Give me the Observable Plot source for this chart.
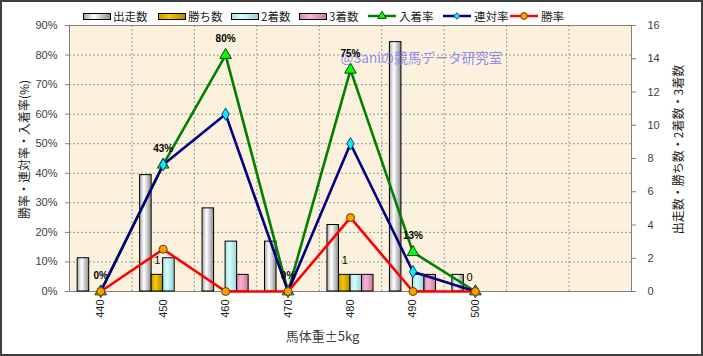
<!DOCTYPE html>
<html><head><meta charset="utf-8">
<script src="https://cdn.jsdelivr.net/npm/d3@7"></script>
<script src="https://cdn.jsdelivr.net/npm/@observablehq/plot@0.6"></script>
<style>
body{margin:0;background:#fff;}
#wrap{position:relative;width:703px;height:356px;overflow:hidden;font-family:"Noto Sans CJK JP",sans-serif;}
#border{position:absolute;left:0;top:0;width:703px;height:356px;box-sizing:border-box;border:2px solid #404040;pointer-events:none;}
#legend{position:absolute;top:9px;left:0;height:14px;width:703px;font-size:11.5px;color:#222;}
.li{position:absolute;top:0;height:14px;display:flex;align-items:center;white-space:nowrap;line-height:14px;}
.sw{width:26px;height:5px;border:1px solid #000;margin-right:2px;}
</style></head>
<body>
<div id="wrap">
<svg width="0" height="0" style="position:absolute">
  <defs>
    <linearGradient id="g0" x1="0" x2="1" y1="0" y2="0"><stop offset="0" stop-color="#a8a8a8"/><stop offset="0.38" stop-color="#ffffff"/><stop offset="1" stop-color="#8c8c8c"/></linearGradient>
    <linearGradient id="g1" x1="0" x2="1" y1="0" y2="0"><stop offset="0" stop-color="#c89a00"/><stop offset="0.38" stop-color="#f8c800"/><stop offset="1" stop-color="#b48800"/></linearGradient>
    <linearGradient id="g2" x1="0" x2="1" y1="0" y2="0"><stop offset="0" stop-color="#a8e4e4"/><stop offset="0.38" stop-color="#d4fcfc"/><stop offset="1" stop-color="#98d4d4"/></linearGradient>
    <linearGradient id="g3" x1="0" x2="1" y1="0" y2="0"><stop offset="0" stop-color="#d888b0"/><stop offset="0.38" stop-color="#f8b4d4"/><stop offset="1" stop-color="#c87aa0"/></linearGradient>
  </defs>
</svg>
<div id="chart"></div>
<div id="legend"></div>
<div id="border"></div>
</div>
<script>
// ---- data ----
const weights = [440, 450, 460, 470, 480, 490, 500];
const slots = [440, 450, 460, 470, 480, 490, 500, 510, 520];
const starts = [2, 7, 5, 3, 4, 15, 1];
const wins = [0, 1, 0, 0, 1, 0, 0];
const seconds = [0, 2, 3, 0, 1, 1, 0];
const thirds = [0, 0, 1, 0, 1, 1, 0];
const placeRate = [0, 42.9, 80, 0, 75, 13.3, 0];
const rentaiRate = [0, 42.9, 60, 0, 50, 6.7, 0];
const winRate = [0, 14.3, 0, 0, 25, 0, 0];
const placeLabels = ["0%", "43%", "80%", "0%", "75%", "13%", ""];
const winLabels = ["", "1", "", "", "1", "", "0"];
const seriesNames = ["出走数", "勝ち数", "2着数", "3着数", "入着率", "連対率", "勝率"];
const pctTicks = [0, 10, 20, 30, 40, 50, 60, 70, 80, 90];
const countTicks = [0, 2, 4, 6, 8, 10, 12, 14, 16];
const leftTitle = "勝率・連対率・入着率(%)";
const rightTitle = "出走数・勝ち数・2着数・3着数";
const xTitle = "馬体重±5kg";
const watermark = "@Saniの競馬データ研究室";

// ---- styling ----
const barFills = ["url(#g0)", "url(#g1)", "url(#g2)", "url(#g3)"];
const cjk = "Noto Sans CJK JP";
const pctMax = 90, countMax = 16;
const toPct = c => c * pctMax / countMax;
const step = 10, groupHalf = 3.69, barW = groupHalf * 2 / 4;
const counts = [starts, wins, seconds, thirds];

const xDomain = [d3.min(slots) - step / 2, d3.max(slots) + step / 2];
const boundaries = slots.slice(1).map(s => s - step / 2);

const barMarks = counts.map((arr, s) =>
  Plot.rect(weights.map((w, i) => ({w, v: arr[i]})), {
    x1: d => d.w - groupHalf + s * barW,
    x2: d => d.w - groupHalf + (s + 1) * barW,
    y1: 0,
    y2: d => toPct(d.v),
    fill: barFills[s],
    stroke: "#000",
    strokeWidth: 1
  })
);

const rows = (arr) => weights.map((w, i) => ({w, v: arr[i], i}));

const lineSeries = [
  {arr: placeRate, stroke: "#008000", fill: "#00ff00", symbol: "triangle", r: 4.3, outline: "#1a3a1a"},
  {arr: rentaiRate, stroke: "#000080", fill: "#00f0ff", symbol: "diamond", r: 3.8, outline: "#204060"},
  {arr: winRate, stroke: "#ff0000", fill: "#ffa000", symbol: "circle", r: 4, outline: "#604000"}
];
const lineMarks = lineSeries.flatMap(s => [
  Plot.line(rows(s.arr), {x: "w", y: "v", stroke: s.stroke, strokeWidth: 2.6}),
  Plot.dot(rows(s.arr), {x: "w", y: "v", symbol: s.symbol, r: s.r, fill: s.fill, stroke: s.outline, strokeWidth: 1})
]);

const chart = Plot.plot({
  width: 703,
  height: 356,
  marginLeft: 69,
  marginRight: 72,
  marginTop: 25,
  marginBottom: 65,
  style: {fontFamily: "Liberation Sans, Arial, sans-serif", fontSize: "11px", color: "#404040", background: "transparent", overflow: "visible"},
  x: {domain: xDomain, axis: null},
  y: {domain: [0, pctMax], axis: null},
  marks: [
    Plot.frame({fill: "#fbf1dd"}),
    Plot.gridY(pctTicks.slice(1, -1), {stroke: "#9a9a9a", strokeOpacity: 1, strokeDasharray: "2,2"}),
    Plot.gridX(boundaries, {stroke: "#9a9a9a", strokeOpacity: 1, strokeDasharray: "2,2"}),
    Plot.frame({stroke: "#808080"}),
    Plot.axisY(pctTicks, {anchor: "left", tickFormat: d => d + "%", tickSize: 4, tickPadding: 8, label: null, stroke: "#808080"}),
    Plot.axisY(countTicks.map(toPct), {anchor: "right", tickFormat: d => String(Math.round(d * countMax / pctMax)), tickSize: 4, tickPadding: 12, label: null, stroke: "#808080"}),
    Plot.axisX(weights, {anchor: "bottom", tickRotate: -90, tickSize: 0, tickPadding: 8, label: null, fill: "#222"}),
    ...barMarks,
    Plot.text([watermark], {frameAnchor: "top-left", textAnchor: "start", dx: 271, dy: 28, fill: "#7a7af0", fillOpacity: 0.85, fontSize: 13.5, fontFamily: cjk}),
    ...lineMarks,
    Plot.text(rows(placeRate).filter(d => placeLabels[d.i]), {x: "w", y: "v", text: d => placeLabels[d.i], dy: -16, fontSize: 10, fontWeight: "bold", fill: "#000"}),
    Plot.text(rows(wins).filter(d => winLabels[d.i]), {x: d => d.w - groupHalf + 1.5 * barW, y: d => toPct(d.v), text: d => winLabels[d.i], dy: -14, fontSize: 11, fill: "#000"}),
    Plot.text([leftTitle], {frameAnchor: "left", textAnchor: "middle", rotate: -90, dx: -44, dy: -9, fontSize: 12, fontFamily: cjk, fill: "#222"}),
    Plot.text([rightTitle], {frameAnchor: "right", textAnchor: "middle", rotate: -90, dx: 48, dy: -9, fontSize: 12, fontFamily: cjk, fill: "#222"}),
    Plot.text([xTitle], {frameAnchor: "bottom", dx: -28, dy: 49, fontSize: 13, fontFamily: cjk, fill: "#404040"})
  ]
});
document.getElementById("chart").appendChild(chart);

// ---- legend ----
const legendX = [83, 158, 231, 299, 368, 443, 510];
const legend = document.getElementById("legend");
seriesNames.forEach((name, k) => {
  const item = document.createElement("div");
  item.className = "li";
  item.style.left = legendX[k] + "px";
  if (k < 4) {
    const sw = document.createElement("div");
    sw.className = "sw";
    const g = [["#a8a8a8", "#fff", "#8c8c8c"], ["#c89a00", "#f8c800", "#b48800"], ["#a8e4e4", "#d4fcfc", "#98d4d4"], ["#d888b0", "#f8b4d4", "#c87aa0"]][k];
    sw.style.background = `linear-gradient(to right, ${g[0]}, ${g[1]} 38%, ${g[2]})`;
    item.appendChild(sw);
  } else {
    const s = lineSeries[k - 4];
    const svg = d3.create("svg").attr("width", 29).attr("height", 12).style("margin-right", "2px");
    svg.append("line").attr("x1", 0).attr("x2", 28).attr("y1", 6).attr("y2", 6).attr("stroke", s.stroke).attr("stroke-width", 2.5);
    const sym = s.symbol === "triangle" ? d3.symbolTriangle : s.symbol === "diamond" ? d3.symbolDiamond2 : d3.symbolCircle;
    const size = s.symbol === "triangle" ? 30 : s.symbol === "diamond" ? 26 : 36;
    svg.append("path").attr("d", d3.symbol(sym, size)()).attr("transform", "translate(14,6)").attr("fill", s.fill).attr("stroke", s.outline).attr("stroke-width", 1);
    item.appendChild(svg.node());
  }
  const t = document.createElement("span");
  t.textContent = name;
  item.appendChild(t);
  legend.appendChild(item);
});
</script>
</body></html>
